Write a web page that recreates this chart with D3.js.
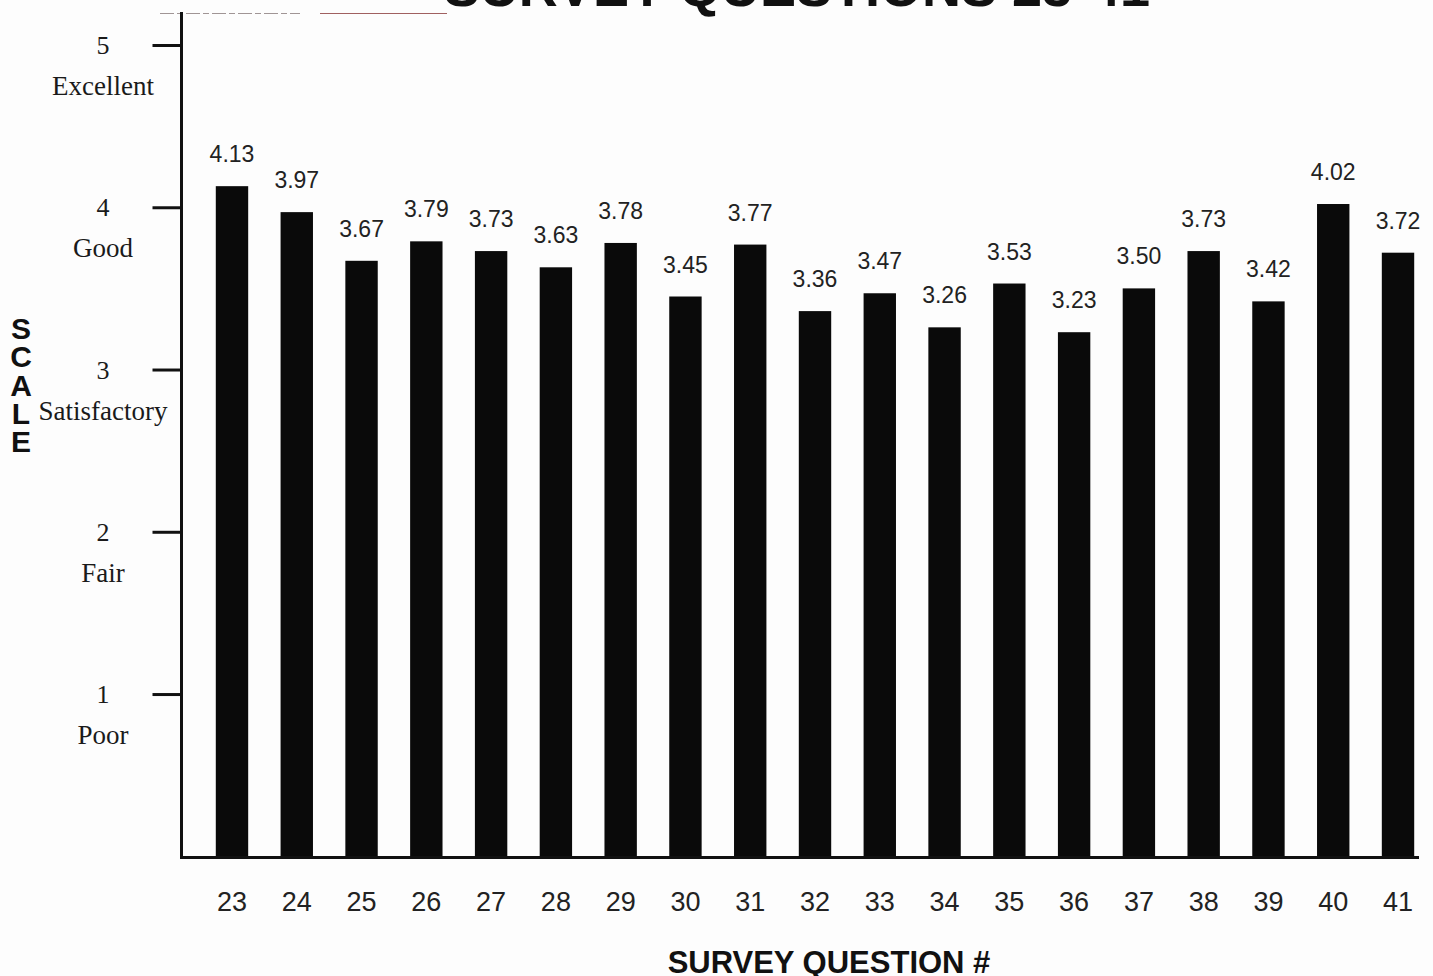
<!DOCTYPE html>
<html>
<head>
<meta charset="utf-8">
<script src="https://cdn.jsdelivr.net/npm/d3@7"></script>
<style>
  html, body { margin: 0; padding: 0; background: #fdfdfd; }
  svg { display: block; }
</style>
</head>
<body>
<svg id="chart" width="1433" height="976"></svg>
<script>
// Survey question numbers and their average ratings
const questions = ["23","24","25","26","27","28","29","30","31","32","33","34","35","36","37","38","39","40","41"];
const ratings = [4.13, 3.97, 3.67, 3.79, 3.73, 3.63, 3.78, 3.45, 3.77, 3.36, 3.47, 3.26, 3.53, 3.23, 3.50, 3.73, 3.42, 4.02, 3.72];
const scaleTicks = [1, 2, 3, 4, 5];
const scaleNames = ["Poor", "Fair", "Satisfactory", "Good", "Excellent"];

const svg = d3.select("#chart");

const axisX = 181.5;
const baseY = 857.5;

const x = d3.scaleBand()
  .domain(questions)
  .range([199.6, 1430.4])
  .paddingInner(0.5)
  .paddingOuter(0.25);

const y = d3.scaleLinear()
  .domain([0, 5])
  .range([856.3, 45]);

const sans = "'Liberation Sans', Arial, Helvetica, sans-serif";
const serif = "'Liberation Serif', 'Times New Roman', serif";

// Title (runs off the top edge of the page)
svg.append("text")
  .attr("x", 797)
  .attr("y", 6)
  .attr("text-anchor", "middle")
  .attr("font-family", sans)
  .attr("font-weight", "bold")
  .attr("font-size", 54)
  .attr("fill", "#111")
  .text("SURVEY QUESTIONS 23-41");

// Thin rule near the top-left
svg.append("line")
  .attr("x1", 160).attr("x2", 300).attr("y1", 13.5).attr("y2", 13.5)
  .attr("stroke", "#7a6a6a").attr("stroke-width", 1).attr("stroke-dasharray", "14 3 6 3")
  .attr("opacity", 0.7);
svg.append("line")
  .attr("x1", 320).attr("x2", 447).attr("y1", 13.5).attr("y2", 13.5)
  .attr("stroke", "#8a3a3a").attr("stroke-width", 1.2)
  .attr("opacity", 0.8);

// Bars
svg.append("g")
  .selectAll("rect")
  .data(questions)
  .join("rect")
  .attr("x", d => x(d))
  .attr("width", x.bandwidth())
  .attr("y", (d, i) => y(ratings[i]))
  .attr("height", (d, i) => y(0) - y(ratings[i]))
  .attr("fill", "#0a0a0a");

// Value labels above bars
svg.append("g")
  .selectAll("text")
  .data(questions)
  .join("text")
  .attr("x", d => x(d) + x.bandwidth() / 2)
  .attr("y", (d, i) => y(ratings[i]) - 24)
  .attr("text-anchor", "middle")
  .attr("font-family", sans)
  .attr("font-size", 23)
  .attr("fill", "#222")
  .text((d, i) => ratings[i].toFixed(2));

// Category axis: labels under each bar
const xAxis = d3.axisBottom(x).tickSize(0).tickPadding(0);
const gx = svg.append("g")
  .attr("transform", `translate(0, ${baseY})`)
  .call(xAxis);
gx.select(".domain").remove();
gx.selectAll("text")
  .attr("y", 53)
  .attr("dy", null)
  .attr("font-family", sans)
  .attr("font-size", 27)
  .attr("fill", "#222");

// Baseline
svg.append("line")
  .attr("x1", axisX - 1.5).attr("x2", 1419)
  .attr("y1", baseY).attr("y2", baseY)
  .attr("stroke", "#111").attr("stroke-width", 3);

// Rating axis with tick marks to the left
const yAxis = d3.axisLeft(y).tickValues(scaleTicks).tickSize(29).tickFormat("");
const gy = svg.append("g")
  .attr("transform", `translate(${axisX}, 0)`)
  .call(yAxis);
gy.select(".domain").remove();
gy.selectAll(".tick line").attr("stroke", "#111").attr("stroke-width", 3);

svg.append("line")
  .attr("x1", axisX).attr("x2", axisX)
  .attr("y1", 12).attr("y2", baseY + 1.5)
  .attr("stroke", "#111").attr("stroke-width", 3);

// Tick numbers and rating names
const tickLabels = svg.append("g");
scaleTicks.forEach((t, i) => {
  tickLabels.append("text")
    .attr("x", 103).attr("y", y(t) + 9)
    .attr("text-anchor", "middle")
    .attr("font-family", serif)
    .attr("font-size", 26)
    .attr("fill", "#1a1a1a")
    .text(t);
  tickLabels.append("text")
    .attr("x", 103).attr("y", y(t) + 50)
    .attr("text-anchor", "middle")
    .attr("font-family", serif)
    .attr("font-size", 27)
    .attr("fill", "#1a1a1a")
    .text(scaleNames[i]);
});

// Vertical axis title, one stacked letter per line
const scaleTitle = svg.append("g")
  .attr("font-family", sans)
  .attr("font-weight", "bold")
  .attr("font-size", 30)
  .attr("fill", "#111")
  .attr("text-anchor", "middle");
"SCALE".split("").forEach((ch, i) => {
  scaleTitle.append("text")
    .attr("x", 21)
    .attr("y", 339 + i * 28.35)
    .text(ch);
});

// Horizontal axis title
svg.append("text")
  .attr("x", 829)
  .attr("y", 973)
  .attr("text-anchor", "middle")
  .attr("font-family", sans)
  .attr("font-weight", "bold")
  .attr("font-size", 31)
  .attr("fill", "#111")
  .text("SURVEY QUESTION #");
</script>
</body>
</html>
